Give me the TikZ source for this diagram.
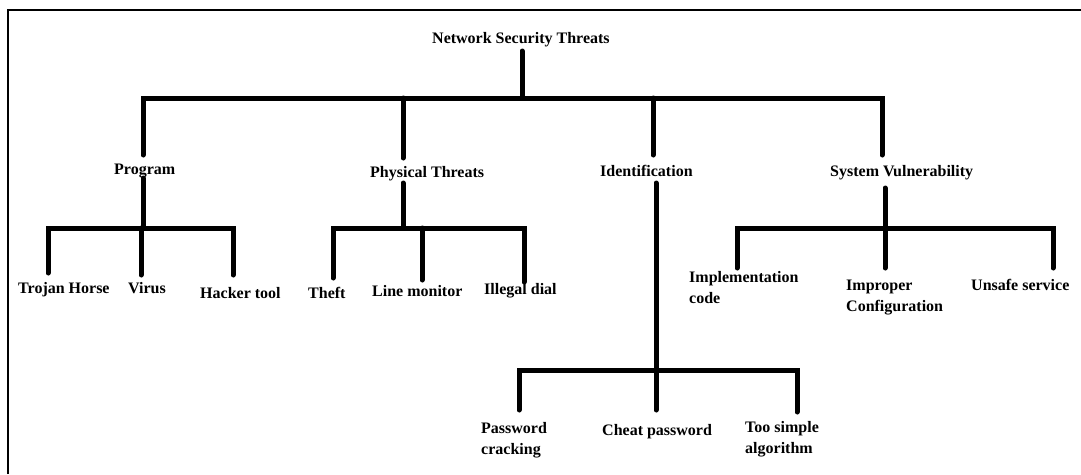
\documentclass[tikz,border=0pt]{standalone}
\usepackage{fontspec}
\setmainfont{Liberation Serif}
\begin{document}
\begin{tikzpicture}[x=1pt,y=-1pt,
  lbl/.style={font=\bfseries\fontsize{16}{21}\selectfont, inner sep=0pt, anchor=base west, align=left},
  conn/.style={line width=5pt, line cap=round, line join=miter},
  frame/.style={line width=2.5pt}]
\useasboundingbox (0,0) rectangle (1081,474);
\draw[frame] (8,474) -- (8,10) -- (1081,10);

% labels (multi-line labels are placed by the baseline of their last line)
\node[lbl] (root) at (432,43) {Network Security Threats};
\node[lbl] (prog) at (114,174) {Program};
\node[lbl] (phys) at (370,177) {Physical Threats};
\node[lbl] (iden) at (600,176) {Identification};
\node[lbl] (sysv) at (830,176) {System Vulnerability};
\node[lbl] (troj) at (18,293) {Trojan Horse};
\node[lbl] (viru) at (128,293) {Virus};
\node[lbl] (hack) at (200,298) {Hacker tool};
\node[lbl] (thef) at (308,298) {Theft};
\node[lbl] (line) at (372,296) {Line monitor};
\node[lbl] (ille) at (484,294) {Illegal dial};
\node[lbl] (impl) at (689,303) {Implementation\\code};
\node[lbl] (impr) at (846,311) {Improper\\Configuration};
\node[lbl] (unsa) at (971,290) {Unsafe service};
\node[lbl] (pass) at (481,454) {Password\\cracking};
\node[lbl] (chea) at (602,435) {Cheat password};
\node[lbl] (tsim) at (745,453) {Too simple\\algorithm};

% junction coordinates
\coordinate (rootS) at (522,51);
\coordinate (rootJ) at (522,98);
\coordinate (b1a) at (143,98);
\coordinate (b1b) at (403,98);
\coordinate (b1c) at (653,98);
\coordinate (b1d) at (882,98);
\coordinate (progT) at (143,155);
\coordinate (physT) at (403,158);
\coordinate (idenT) at (653,155);
\coordinate (sysvT) at (882,155);

\coordinate (progB) at (143,178);
\coordinate (progJ) at (143,228);
\coordinate (p1) at (48,228);  \coordinate (p1e) at (48,273);
\coordinate (p2) at (141,228); \coordinate (p2e) at (141,275);
\coordinate (p3) at (233,228); \coordinate (p3e) at (233,275);

\coordinate (physB) at (403,183);
\coordinate (physJ) at (403,228);
\coordinate (h1) at (333,228); \coordinate (h1e) at (333,278);
\coordinate (h2) at (422,228); \coordinate (h2e) at (422,280);
\coordinate (h3) at (524,228); \coordinate (h3e) at (524,282);

\coordinate (idenB) at (656,183);
\coordinate (idenJ) at (656,370);
\coordinate (i1) at (519,370); \coordinate (i1e) at (519,410);
\coordinate (i2e) at (656,410);
\coordinate (i3) at (797,370); \coordinate (i3e) at (797,412);

\coordinate (sysvB) at (885,188);
\coordinate (sysvJ) at (885,228);
\coordinate (s1) at (737,228); \coordinate (s1e) at (737,268);
\coordinate (s2e) at (885,268);
\coordinate (s3) at (1053,228); \coordinate (s3e) at (1053,268);

% connectors
\draw[conn] (rootS) -- (rootJ);
\draw[conn] (progT) -- (b1a) -- (b1d) -- (sysvT);
\draw[conn] (b1b) -- (physT);
\draw[conn] (b1c) -- (idenT);

\draw[conn] (progB) -- (progJ);
\draw[conn] (p1e) -- (p1) -- (p3) -- (p3e);
\draw[conn] (p2) -- (p2e);

\draw[conn] (physB) -- (physJ);
\draw[conn] (h1e) -- (h1) -- (h3) -- (h3e);
\draw[conn] (h2) -- (h2e);

\draw[conn] (idenB) -- (i2e);
\draw[conn] (i1e) -- (i1) -- (i3) -- (i3e);

\draw[conn] (sysvB) -- (s2e);
\draw[conn] (s1e) -- (s1) -- (s3) -- (s3e);
\end{tikzpicture}
\end{document}
